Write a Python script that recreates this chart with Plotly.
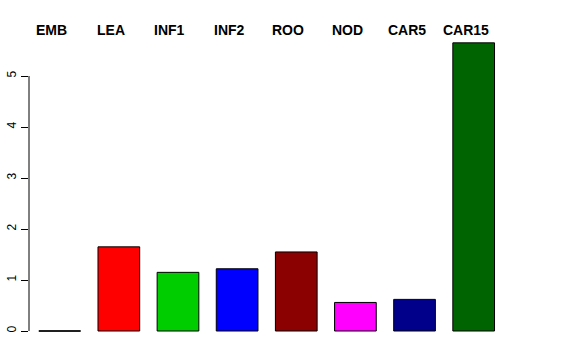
import plotly.graph_objects as go

categories = ["EMB", "LEA", "INF1", "INF2", "ROO", "NOD", "CAR5", "CAR15"]
values = [0.0, 1.65, 1.15, 1.22, 1.55, 0.56, 0.62, 5.65]
colors = ["#FFFFFF", "#FF0000", "#00CD00", "#0000FF", "#8B0000", "#FF00FF", "#00008B", "#006400"]
y_ticks = [0, 1, 2, 3, 4, 5]

W, H = 576, 360
bar_w = 0.705
xs = list(range(len(categories)))

fig = go.Figure()
fig.add_trace(go.Bar(
    x=xs, y=values, width=bar_w,
    marker=dict(color=colors, line=dict(color="black", width=1)),
    showlegend=False, hoverinfo="skip",
))
# zero-height bars drawn as a flat outline
for xi, v in zip(xs, values):
    if v == 0:
        fig.add_trace(go.Scatter(
            x=[xi - bar_w / 2, xi + bar_w / 2], y=[v, v], mode="lines",
            line=dict(color="black", width=1), showlegend=False, hoverinfo="skip",
        ))

for xi, c in zip(xs, categories):
    fig.add_annotation(
        x=xi, y=(H - 30) / H, xref="x", yref="paper", text="<b>%s</b>" % c,
        showarrow=False, xshift=-8, yanchor="middle", xanchor="center",
        font=dict(family="Liberation Sans, Arial, sans-serif", size=14, color="black"),
    )

fig.add_shape(type="line", xref="paper", yref="y", x0=0, x1=0,
              y0=min(y_ticks), y1=max(y_ticks), line=dict(color="black", width=1))

left = 29
px_per_cat = 59.14
x0 = (left - 59.7) / px_per_cat
x1 = (W - 59.7) / px_per_cat
ppu = 51.0
fig.update_layout(
    width=W, height=H,
    margin=dict(l=left, r=0, t=0, b=0),
    paper_bgcolor="white", plot_bgcolor="white",
    xaxis=dict(range=[x0, x1], visible=False),
    yaxis=dict(
        range=[-(H - 331) / ppu, 331 / ppu],
        tickvals=y_ticks, ticktext=[str(t) for t in y_ticks],
        ticks="outside", ticklen=7, tickcolor="black", tickwidth=1,
        tickangle=-90, showgrid=False, zeroline=False, showline=False,
        tickfont=dict(family="Liberation Sans, Arial, sans-serif", size=12, color="black"),
    ),
)
fig.write_html("out.html")
